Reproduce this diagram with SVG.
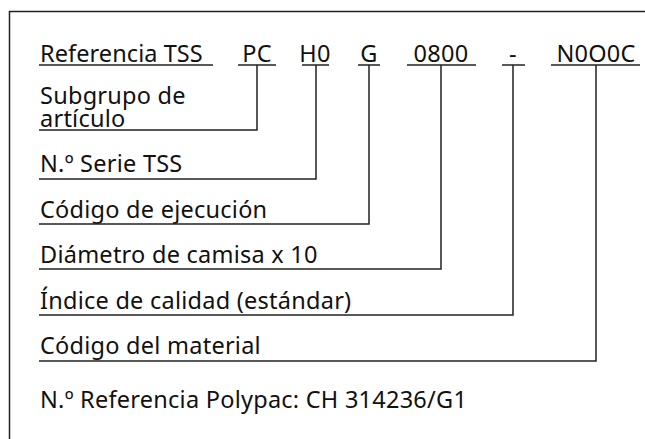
<svg xmlns="http://www.w3.org/2000/svg" width="645" height="439" viewBox="0 0 645 439">
<style>
text{font-family:"Noto Sans","Open Sans","Liberation Sans",sans-serif;font-size:23.5px;letter-spacing:0.25px;fill:#111}
.c{text-anchor:middle}
.ln{fill:none;stroke:#222;stroke-width:1.5}
</style>
<rect width="645" height="439" fill="#fff"/>
<path class="ln" d="M9.5,439 V11.5 H645"/>
<g id="header">
<text x="40" y="62" textLength="163">Referencia TSS</text>
<text class="c" x="257" y="62">PC</text>
<text class="c" x="315" y="62">H0</text>
<text class="c" x="369" y="62">G</text>
<text class="c" x="441" y="62">0800</text>
<text class="c" x="513" y="62">-</text>
<text class="c" x="596" y="62">N0O0C</text>
<path class="ln" d="M39,65 H213 M238,65 H276 M302,65 H329 M358,65 H380 M407,65 H476 M502,65 H525 M551,65 H640"/>
</g>
<g id="subgrupo"><text x="40" y="104">Subgrupo de</text><text x="40" y="127">artículo</text></g>
<g id="serie"><text x="40" y="172">N.º Serie TSS</text></g>
<g id="ejecucion"><text x="40" y="218">Código de ejecución</text></g>
<g id="diametro"><text x="40" y="263">Diámetro de camisa x 10</text></g>
<g id="indice"><text x="40" y="309">Índice de calidad (estándar)</text></g>
<g id="material"><text x="40" y="354">Código del material</text></g>
<g id="polypac"><text x="40" y="408">N.º Referencia Polypac: CH 314236/G1</text></g>
<g id="connectors">
<path class="ln" d="M257,65 V130 H39"/>
<path class="ln" d="M316,65 V179 H39"/>
<path class="ln" d="M369,65 V224 H39"/>
<path class="ln" d="M441,65 V269 H39"/>
<path class="ln" d="M513,65 V315 H39"/>
<path class="ln" d="M596,65 V361 H39"/>
</g>
</svg>
